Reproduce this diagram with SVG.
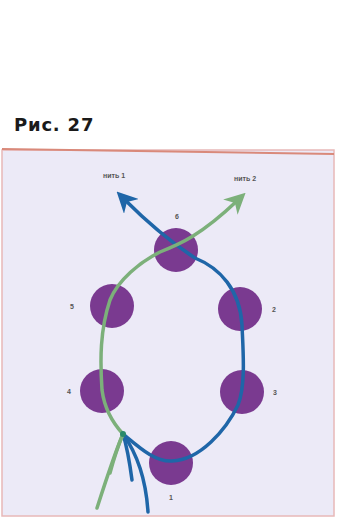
<svg xmlns="http://www.w3.org/2000/svg" width="345" height="527" viewBox="0 0 345 527">
<defs>
<style>
.title{font-family:"DejaVu Sans",Arial,sans-serif;font-weight:bold;font-size:18px;letter-spacing:0.8px;fill:#1a1a1a}
.lbl{font-family:"Liberation Sans",Arial,sans-serif;font-size:7px;font-weight:bold;fill:#555;text-anchor:middle}
.node{fill:#7a3a90}
.blue{fill:none;stroke:#1f66a8;stroke-width:3.5;stroke-linecap:round}
.green{fill:none;stroke:#7cb07a;stroke-width:3.5;stroke-linecap:round}
</style>
<marker id="ab" viewBox="0 0 10 10" refX="5" refY="5" markerWidth="6" markerHeight="6" orient="auto" markerUnits="strokeWidth"><path d="M0,0 L10,5 L0,10 L3,5 Z" fill="#1f66a8"/></marker>
<marker id="ag" viewBox="0 0 10 10" refX="5" refY="5" markerWidth="6" markerHeight="6" orient="auto" markerUnits="strokeWidth"><path d="M0,0 L10,5 L0,10 L3,5 Z" fill="#7cb07a"/></marker>
</defs>
<rect width="345" height="527" fill="#ffffff"/>
<text class="title" x="14" y="131">Рис. 27</text>
<g id="frame">
<rect x="2" y="150" width="332" height="366" fill="#eceaf7" stroke="#e8b8b8" stroke-width="1.5"/>
<line x1="2" y1="149" x2="334" y2="154" stroke="#d9897a" stroke-width="2"/>
</g>
<g id="n6"><circle class="node" cx="176" cy="250" r="22"/><text class="lbl" x="177" y="219">6</text></g>
<g id="n5"><circle class="node" cx="112" cy="306" r="22"/><text class="lbl" x="72" y="309">5</text></g>
<g id="n2"><circle class="node" cx="240" cy="309" r="22"/><text class="lbl" x="274" y="312">2</text></g>
<g id="n4"><circle class="node" cx="102" cy="391" r="22"/><text class="lbl" x="69" y="394">4</text></g>
<g id="n3"><circle class="node" cx="242" cy="392" r="22"/><text class="lbl" x="275" y="395">3</text></g>
<g id="n1"><circle class="node" cx="171" cy="463" r="22"/><text class="lbl" x="171" y="500">1</text></g>
<g id="connectors">
<path class="blue" d="M148,512 C146,480 138,455 123,434"/>
<path class="blue" d="M132,480 C130,465 128,450 123,434" stroke-width="2.5"/>
<path class="blue" d="M123,434 C140,448 155,462 172,461 C200,460 226,430 238,405 C246,385 243,350 242,325 C240,290 220,268 195,258 C175,245 150,225 124,199" marker-end="url(#ab)"/>
<path class="green" d="M97,508 C106,480 114,455 123,434" stroke="#9cc27a" stroke-width="2.5"/>
<path class="green" d="M110,473 C114,458 118,446 123,434" stroke="#a8c880" stroke-width="2"/>
<path class="green" d="M123,434 C110,420 104,405 102,390 C100,360 100,330 110,300 C118,280 140,262 160,252 C180,244 200,236 238,200" marker-end="url(#ag)"/>
<circle cx="123" cy="434" r="3" fill="#2a8a6a"/>
</g>
<text class="lbl" x="114" y="178">нить 1</text>
<text class="lbl" x="245" y="181">нить 2</text>
</svg>
